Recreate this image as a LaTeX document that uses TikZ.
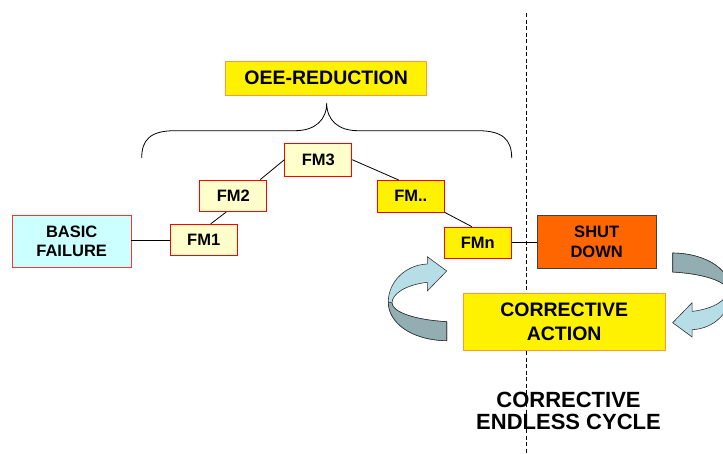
\documentclass[tikz,border=0pt]{standalone}
\usepackage{fontspec}
\setmainfont{Liberation Sans}

\definecolor{fmpale}{RGB}{255,255,204}
\definecolor{failcyan}{RGB}{204,255,255}
\definecolor{shutorange}{RGB}{255,102,0}
\definecolor{oeeborder}{RGB}{255,153,51}
\definecolor{arrowlight}{RGB}{183,222,230}
\definecolor{arrowdark}{RGB}{147,174,178}

\begin{document}
\begin{tikzpicture}[x=1pt, y=-1pt, line width=0.8pt,
    boxtext/.style={inner sep=0pt, align=center, font=\fontsize{16.5}{19.5}\selectfont\bfseries},
    fmbox/.style={boxtext, draw=red, fill=fmpale, minimum width=67pt, minimum height=31.5pt},
    fmhot/.style={fmbox, fill=yellow},
    bigbox/.style={boxtext, draw=oeeborder, fill=yellow, font=\fontsize{19.5}{23.5}\selectfont\bfseries},
    ribbon/.style={draw=black!80, line width=0.6pt, line join=round}]
    \useasboundingbox (0,0) rectangle (723,453);

    % divider
    \draw[dash pattern=on 4pt off 2.5pt] (526.7,13) -- (526.7,453);

    % brace under the title
    \draw (141.7,158) .. controls (141.7,140) and (150,130.7) .. (175,130.7) -- (295,130.7)
        .. controls (315,130.7) and (326.7,120) .. (326.7,103)
        .. controls (326.7,120) and (338,130.7) .. (358,130.7) -- (478,130.7)
        .. controls (503,130.7) and (511.7,140) .. (511.7,158);

    \node[bigbox, minimum width=201pt, minimum height=34pt] (oee) at (326.2,78) {OEE-REDUCTION};

    \node[boxtext, draw=red!80, fill=failcyan, minimum width=118.7pt, minimum height=51.6pt] (basic) at (71.7,241.5) {BASIC\\FAILURE};
    \node[fmbox] (fm1) at (203.7,240) {FM1};
    \node[fmbox] (fm2) at (233.3,195.8) {FM2};
    \node[fmbox, minimum height=32.7pt] (fm3) at (318.3,159.7) {FM3};
    \node[fmhot] (fmd) at (410.8,196.2) {FM..};
    \node[fmhot] (fmn) at (477.8,242.8) {FMn};
    \node[boxtext, draw=black!75, fill=shutorange, minimum width=118.7pt, minimum height=53.3pt] (shut) at (596.7,241.7) {SHUT\\DOWN};
    \node[bigbox, minimum width=201.7pt, minimum height=57.4pt] (action) at (564.2,322) {CORRECTIVE\\ACTION};

    \draw (fm1.west -| basic.east) -- (fm1.west);
    \draw ([xshift=7pt]fm1.north) -- ([xshift=-7pt]fm2.south);
    \draw ([xshift=-7pt]fm2.north east) -- (fm3.west);
    \draw (fm3.east) -- ([xshift=-12pt]fmd.north);
    \draw (fmd.south east) -- ([xshift=-6pt]fmn.north);
    \draw (fmn.east) -- (fmn.east -| shut.west);

    % cycle arrows
    \begin{scope}
        \clip (0,0) rectangle (723,453);
        \foreach \turn in {0,180} {
            \begin{scope}[rotate around={\turn:(559.7,296.85)}]
                \draw[ribbon, fill=arrowlight] (446.7,340.7)
                    .. controls (410,340) and (388.3,322) .. (388.3,302)
                    .. controls (388.3,282) and (405,265) .. (427.3,264)
                    -- (427.3,256.7) -- (446.7,271) -- (427.3,291) -- (427.3,282.3)
                    .. controls (405,285) and (392,294) .. (392,303)
                    .. controls (392,312) and (415,320) .. (446.7,321.7) -- cycle;
                \draw[ribbon, fill=arrowdark] (388.3,302)
                    .. controls (388.3,322) and (410,340) .. (446.7,340.7)
                    -- (446.7,321.7)
                    .. controls (415,320) and (392,312) .. (392,303) -- cycle;
            \end{scope}
        }
    \end{scope}

    \node[align=center, inner sep=0pt, font=\fontsize{22}{22}\selectfont\bfseries] (cycle) at (568.5,411) {CORRECTIVE\\ENDLESS CYCLE};
\end{tikzpicture}
\end{document}
